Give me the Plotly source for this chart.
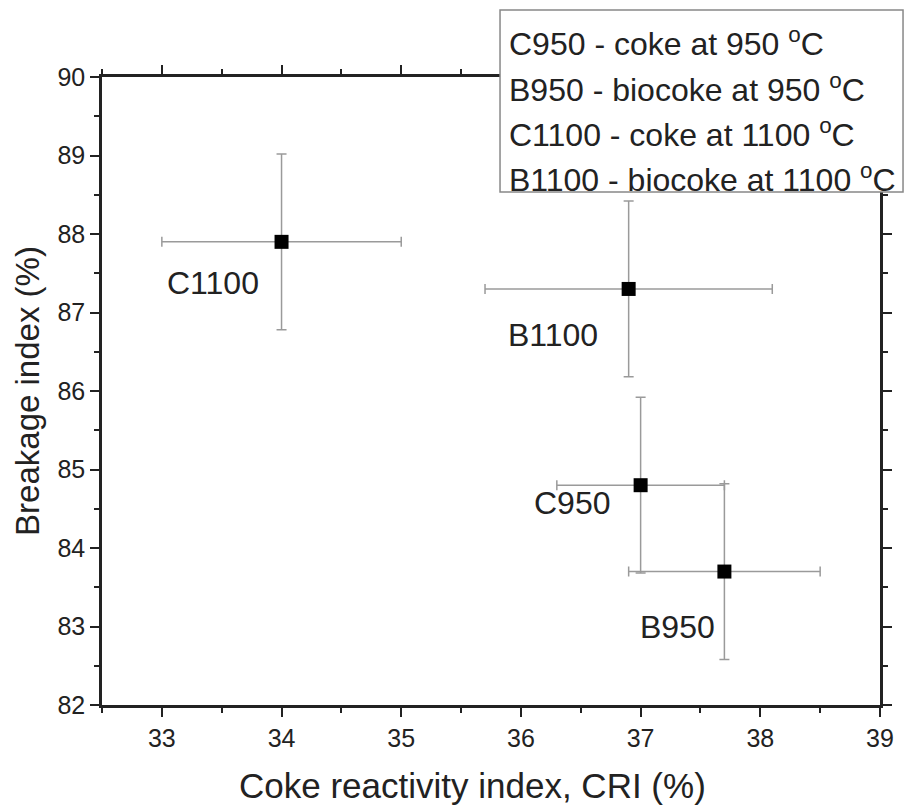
import plotly.graph_objects as go

names = ["C1100", "B1100", "C950", "B950"]
cri = [34.0, 36.9, 37.0, 37.7]
bi = [87.9, 87.3, 84.8, 83.7]
cri_err = [1.0, 1.2, 0.7, 0.8]
bi_err = [1.12, 1.12, 1.12, 1.12]
label_x = [33.43, 36.27, 36.43, 37.31]
label_y = [87.38, 86.71, 84.57, 83.0]
legend_lines = [
    "C950 - coke at 950 <sup>o</sup>C",
    "B950 - biocoke at 950 <sup>o</sup>C",
    "C1100 - coke at 1100 <sup>o</sup>C",
    "B1100 - biocoke at 1100 <sup>o</sup>C",
]
legend_line_y = [1.0557, 0.9825, 0.9108, 0.8392]
x_title = "Coke reactivity index, CRI (%)"
y_title = "Breakage index (%)"

FONT = "Liberation Sans, Arial, sans-serif"
INK = "#222"

fig = go.Figure()
fig.add_trace(go.Scatter(
    x=cri, y=bi, mode="markers",
    marker=dict(symbol="square", size=14, color="black"),
    error_x=dict(type="data", array=cri_err, color="#9a9a9a", thickness=1.5, width=5),
    error_y=dict(type="data", array=bi_err, color="#9a9a9a", thickness=1.5, width=5),
    showlegend=False,
))

for n, lx, ly in zip(names, label_x, label_y):
    fig.add_annotation(x=lx, y=ly, text=n, showarrow=False,
                       font=dict(size=32, color=INK, family=FONT))

# legend-like text box
fig.add_shape(type="rect", xref="paper", yref="paper",
              x0=0.5116, x1=1.0296, y0=0.8169, y1=1.1067,
              fillcolor="white", line=dict(color="#888", width=1.5), layer="above")
for t, ly in zip(legend_lines, legend_line_y):
    fig.add_annotation(xref="paper", yref="paper", x=0.5206, y=ly,
                       xanchor="left", yanchor="middle", text=t, showarrow=False,
                       font=dict(size=32, color=INK, family=FONT))

# x-axis title
fig.add_annotation(xref="paper", yref="paper", x=0.4756, y=-0.1274,
                   xanchor="center", yanchor="middle", text=x_title, showarrow=False,
                   font=dict(size=35, color=INK, family=FONT))

axis_common = dict(
    showline=True, linecolor=INK, linewidth=2.5, mirror="allticks",
    ticks="outside", ticklen=9, tickwidth=2, tickcolor=INK,
    showgrid=False, zeroline=False,
    tickfont=dict(size=25, color=INK, family=FONT),
)

fig.update_xaxes(range=[32.5, 39], dtick=1, tick0=33,
                 minor=dict(ticks="outside", dtick=0.5, ticklen=5, tickwidth=2, tickcolor=INK),
                 **axis_common)
fig.update_yaxes(range=[82, 90], dtick=1,
                 minor=dict(ticks="outside", dtick=0.5, ticklen=5, tickwidth=2, tickcolor=INK),
                 title=dict(text=y_title, font=dict(size=33, color=INK, family=FONT), standoff=8),
                 **axis_common)

fig.update_layout(
    width=905, height=805,
    margin=dict(l=102, r=25, t=77, b=100),
    paper_bgcolor="white", plot_bgcolor="white",
)

fig.write_html("out.html")
